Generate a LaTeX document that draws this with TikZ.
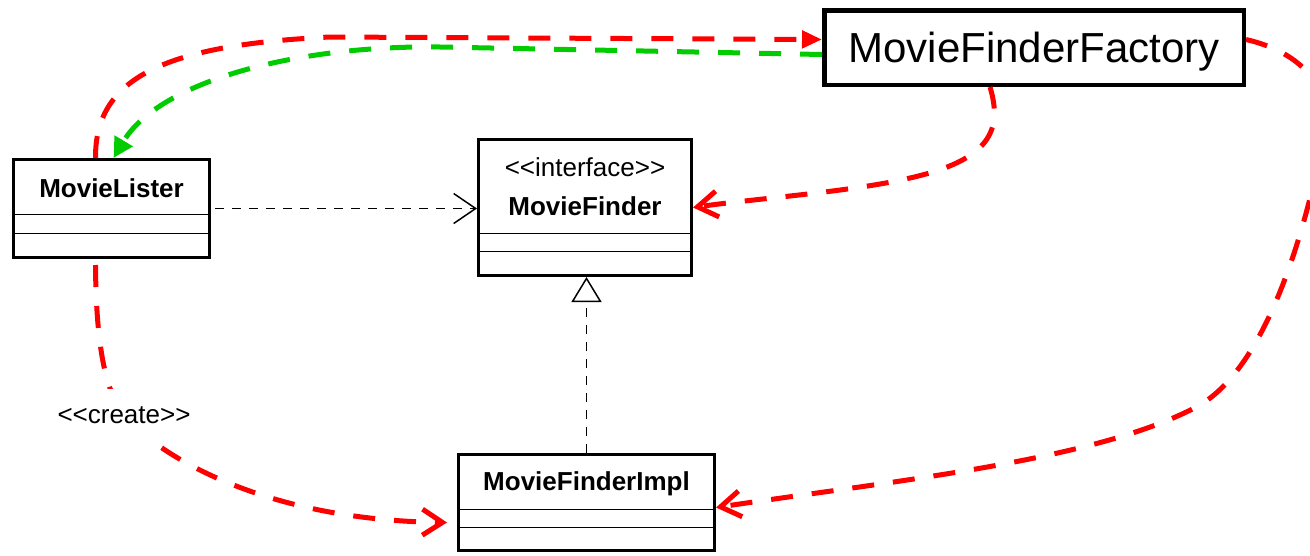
\documentclass[tikz,border=0pt]{standalone}
\usepackage{fontspec}
\setmainfont{Liberation Sans}
\usetikzlibrary{arrows.meta}
\definecolor{depred}{RGB}{255,0,0}
\definecolor{depgreen}{RGB}{0,204,0}
\newcommand{\stereotype}[1]{<\kern0pt<#1>\kern0pt>}

\begin{document}
\begin{tikzpicture}[x=1pt,y=-1pt,
  umlclass/.style={rectangle,draw=black,line width=3pt,inner sep=0pt},
  classname/.style={inner sep=0pt,text depth=0pt,font=\fontsize{26}{30}\selectfont\bfseries},
  stereo/.style={inner sep=0pt,text depth=0pt,font=\fontsize{26}{30}\selectfont},
  factory/.style={rectangle,draw=black,line width=4.5pt,minimum width=419.5pt,minimum height=74.5pt,
    inner sep=0pt,text depth=0pt,font=\fontsize{42}{50}\selectfont},
  compline/.style={line width=1.5pt},
  uses/.style={line width=1.5pt,dash pattern=on 9pt off 8pt},
  wiring/.style={line width=5pt,dash pattern=on 22pt off 19pt,depred},
  openhead/.style={-{Straight Barb[length=20pt,width=26pt]}},
  createlabel/.style={fill=white,inner xsep=2pt,inner ysep=18pt,text depth=0pt,font=\fontsize{26}{30}\selectfont}]
\useasboundingbox (0,0) rectangle (1310,555);
\clip (0,0) rectangle (1310,555);

\node at (111.5,208.5) (ML) [umlclass,minimum width=196pt,minimum height=98pt] {};
\node at (585,207.5) (MF) [umlclass,minimum width=213pt,minimum height=136pt] {};
\node at (586.5,502.5) (MFI) [umlclass,minimum width=256pt,minimum height=96pt] {};
\node at (1034,47.5) (MFF) [factory] {MovieFinderFactory};

\node at ([yshift=-30.5pt]ML.north) (MLname) [classname] {MovieLister};
\node at ([yshift=-29.5pt]MF.north) (MFstereo) [stereo] {\stereotype{interface}};
\node at ([yshift=-68.5pt]MF.north) (MFname) [classname] {MovieFinder};
\node at ([yshift=-28.5pt]MFI.north) (MFIname) [classname] {MovieFinderImpl};

\draw [compline] ([yshift=-56.5pt]ML.north west) -- ([yshift=-56.5pt]ML.north east);
\draw [compline] ([yshift=-75.5pt]ML.north west) -- ([yshift=-75.5pt]ML.north east);
\draw [compline] ([yshift=-95.5pt]MF.north west) -- ([yshift=-95.5pt]MF.north east);
\draw [compline] ([yshift=-113.5pt]MF.north west) -- ([yshift=-113.5pt]MF.north east);
\draw [compline] ([yshift=-56.5pt]MFI.north west) -- ([yshift=-56.5pt]MFI.north east);
\draw [compline] ([yshift=-74.5pt]MFI.north west) -- ([yshift=-74.5pt]MFI.north east);

\draw [uses,-{Straight Barb[length=22pt,width=30pt]}] ([xshift=4pt]ML.east) -- (ML.east -| MF.west);
\draw [uses,-{Triangle[open,length=25pt,width=30pt,fill=white]}] (MFI.north) -- (MFI.north |- MF.south);

\draw [wiring,-{Triangle[length=20pt,width=17pt]}] ([xshift=-16pt]ML.north)
  .. controls (95,80) and (160,45) .. (330,37) -- ([yshift=8pt]MFF.west);
\draw [wiring,depgreen,-{Triangle[length=20pt,width=20pt]}] ([yshift=-7pt]MFF.west) -- (440,47)
  .. controls (300,45) and (160,80) .. ([xshift=2pt]ML.north);
\draw [wiring,openhead] ([xshift=-44pt]MFF.south)
  .. controls (1003,130) and (990,160) .. (910,178)
  .. controls (850,192) and (760,198) .. (MF.east);
\draw [wiring,openhead] ([yshift=8pt]MFF.east)
  .. controls (1300,52) and (1330,85) .. (1325,130)
  .. controls (1312,200) and (1275,360) .. (1200,405)
  .. controls (1100,460) and (900,480) .. ([yshift=-5pt]MFI.east);
\draw [wiring,openhead] ([xshift=-16pt,yshift=-6pt]ML.south)
  .. controls (96,330) and (102,385) .. (122,412)
  .. controls (145,445) and (250,520) .. ([xshift=-10pt,yshift=-20pt]MFI.west);
\node at (124,415) (create) [createlabel] {\stereotype{create}};
\end{tikzpicture}
\end{document}
